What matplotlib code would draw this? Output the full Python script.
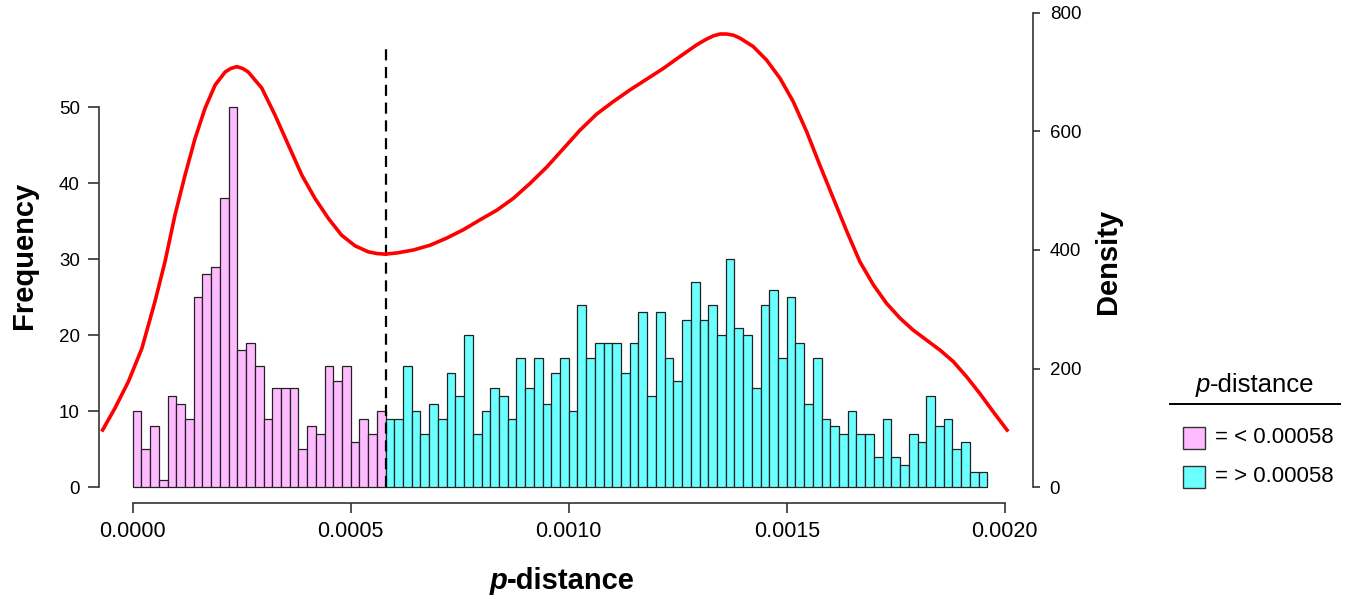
import numpy as np
import matplotlib
matplotlib.use("Agg")
import matplotlib.pyplot as plt
from matplotlib.patches import Rectangle
from matplotlib.offsetbox import TextArea, HPacker, AnnotationBbox

plt.rcParams["font.family"] = ["Liberation Sans", "DejaVu Sans"]

# histogram: bins of 0.00002, split at the cutoff
BIN_WIDTH = 0.00002
CUTOFF = 0.00058

low_counts = [10, 5, 8, 1, 12, 11, 9, 25, 28, 29, 38, 50, 18, 19, 16, 9,
              13, 13, 13, 5, 8, 7, 16, 14, 16, 6, 9, 7, 10]
high_counts = [9, 9, 16, 10, 7, 11, 9, 15, 12, 20, 7, 10, 13, 12, 9, 17, 13, 17, 11, 15,
               17, 10, 24, 17, 19, 19, 19, 15, 19, 23, 12, 23, 17, 14, 22, 27, 22, 24, 20, 30,
               21, 20, 13, 24, 26, 17, 25, 19, 11, 17, 9, 8, 7, 10, 7, 7, 4, 9, 4, 3,
               7, 6, 12, 8, 9, 5, 6, 2, 2]

# density curve (x in units of 1e-3)
dens_x = [-0.071, -0.041, -0.010, 0.021, 0.051, 0.074, 0.097, 0.120, 0.143, 0.166,
          0.189, 0.212, 0.225, 0.239, 0.252, 0.265, 0.296, 0.326, 0.357, 0.388, 0.418, 0.449,
          0.479, 0.510, 0.540, 0.560, 0.579, 0.606, 0.644, 0.682, 0.720, 0.758, 0.797,
          0.835, 0.873, 0.911, 0.950, 0.988, 1.026, 1.064, 1.102, 1.141, 1.179,
          1.217, 1.255, 1.294, 1.315, 1.332, 1.347, 1.362, 1.378, 1.393, 1.423, 1.454, 1.485, 1.515,
          1.546, 1.576, 1.607, 1.638, 1.668, 1.699, 1.729, 1.760, 1.790, 1.821,
          1.852, 1.882, 1.913, 1.943, 1.974, 2.008]
dens_y = [94, 133, 178, 234, 313, 380, 459, 526, 588, 639,
          678, 700, 706, 709, 706, 700, 673, 628, 577, 526, 487, 453,
          425, 407, 397, 394, 393, 395, 400, 408, 420, 434, 451,
          467, 487, 512, 540, 571, 602, 629, 650, 670, 688,
          706, 726, 746, 755, 761, 764, 764, 762, 757, 743, 720, 689, 650,
          599, 543, 487, 431, 380, 341, 310, 285, 265, 248,
          231, 212, 186, 158, 127, 94]

x_ticks = [0.0, 0.0005, 0.0010, 0.0015, 0.0020]
freq_ticks = [0, 10, 20, 30, 40, 50]
dens_ticks = [0, 200, 400, 600, 800]

PINK = "#FFBBFF"
CYAN = "#6CFFFF"
AXCOL = "#333333"

W, H = 1351, 599
fig = plt.figure(figsize=(W / 100, H / 100), dpi=100)
ax = fig.add_axes([99 / W, 1 - 502.7 / H, (1033 - 99) / W, (502.7 - 10) / H])
ax.set_facecolor("none")

low_left = np.arange(len(low_counts)) * BIN_WIDTH
high_left = CUTOFF + np.arange(len(high_counts)) * BIN_WIDTH
ax.bar(low_left, low_counts, width=BIN_WIDTH, align="edge",
       color=PINK, edgecolor="#222222", linewidth=0.9)
ax.bar(high_left, high_counts, width=BIN_WIDTH, align="edge",
       color=CYAN, edgecolor="#222222", linewidth=0.9)
ax.vlines(CUTOFF, 0, 58, colors="black", linewidth=1.6, linestyles=(0, (5, 3)))

ax.set_xlim(-0.0000773, 0.0020649)
ax.set_ylim(-2.026, 62.8)
for s in ("top", "right"):
    ax.spines[s].set_visible(False)
ax.spines["left"].set_bounds(0, 50)
ax.spines["bottom"].set_bounds(0, 0.002)
for s in ("left", "bottom"):
    ax.spines[s].set_color(AXCOL)
    ax.spines[s].set_linewidth(1.2)
ax.set_xticks(x_ticks)
ax.set_xticklabels([f"{v:.4f}" for v in x_ticks])
ax.set_yticks(freq_ticks)
ax.tick_params(axis="x", length=7.2, width=1.2, color=AXCOL, pad=6, labelsize=15.5)
ax.tick_params(axis="y", length=7.7, width=1.2, color=AXCOL, pad=6, labelsize=13.5)

ax2 = ax.twinx()
ax2.set_ylim(-25.96, 804.5)
ax2.plot(np.array(dens_x) * 1e-3, dens_y, color="#FF0000", linewidth=2.6,
         solid_capstyle="butt", solid_joinstyle="round", clip_on=False)
for s in ("top", "left", "bottom"):
    ax2.spines[s].set_visible(False)
ax2.spines["right"].set_bounds(0, 800)
ax2.spines["right"].set_color(AXCOL)
ax2.spines["right"].set_linewidth(1.2)
ax2.set_yticks(dens_ticks)
ax2.tick_params(axis="y", length=5, width=1.2, color=AXCOL, pad=7, labelsize=13.5)

# overlay in pixel coordinates for titles and legend
lax = fig.add_axes([0, 0, 1, 1])
lax.set_xlim(0, W)
lax.set_ylim(H, 0)
lax.axis("off")

lax.text(24, 255, "Frequency", rotation=90, ha="center", va="center",
         fontsize=21, fontweight="bold")
lax.text(1108, 261, "Density", rotation=90, ha="center", va="center",
         fontsize=21, fontweight="bold")


def p_label(xy, size, weight):
    box = HPacker(children=[
        TextArea("p", textprops=dict(fontsize=size, fontweight=weight, fontstyle="italic")),
        TextArea("-distance", textprops=dict(fontsize=size, fontweight=weight)),
    ], align="baseline", pad=0, sep=0)
    ab = AnnotationBbox(box, xy, xycoords="data", frameon=False,
                        box_alignment=(0.5, 0.5), pad=0)
    lax.add_artist(ab)


p_label((562, 581), 21, "bold")
p_label((1255, 385), 18.5, "normal")

lax.plot([1170, 1340], [404, 404], color="black", linewidth=1.4)
lax.add_patch(Rectangle((1183, 427), 22, 21.5, facecolor=PINK, edgecolor="#333333", linewidth=1))
lax.add_patch(Rectangle((1183, 466), 22, 21.5, facecolor=CYAN, edgecolor="#333333", linewidth=1))
lax.text(1215, 437.5, "= < 0.00058", ha="left", va="center", fontsize=16)
lax.text(1215, 477, "= > 0.00058", ha="left", va="center", fontsize=16)

fig.savefig("out.png", dpi=100)
